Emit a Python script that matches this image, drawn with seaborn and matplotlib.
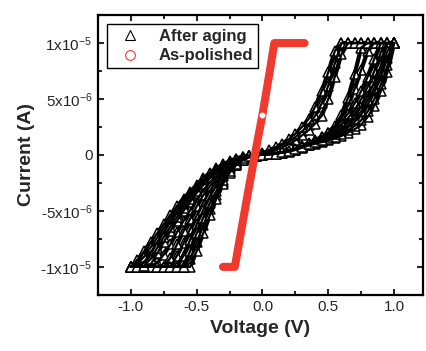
import matplotlib
matplotlib.use("Agg")
import matplotlib.pyplot as plt
from matplotlib.lines import Line2D
from matplotlib.ticker import MultipleLocator
import seaborn as sns
import pandas as pd

# ============================== Data (current in uA) ==============================
voltage = [-1.00, -0.95, -0.90, -0.85, -0.80, -0.75, -0.70, -0.65, -0.60, -0.55,
           -0.50, -0.45, -0.40, -0.35, -0.30, -0.25, -0.20, -0.15, -0.10, -0.05,
           0.00,
           0.05, 0.10, 0.15, 0.20, 0.25, 0.30, 0.35, 0.40, 0.45, 0.50,
           0.55, 0.60, 0.65, 0.70, 0.75, 0.80, 0.85, 0.90, 0.95, 1.00]

# "After aging" sweeps
aged_1 = [-10.0, -9.4, -8.6, -7.8, -7.0, -6.2, -5.4, -4.6, -3.9, -3.3,
          -2.7, -2.1, -1.6, -1.2, -0.85, -0.55, -0.32, -0.15, -0.05, 0.0,
          0.0,
          0.05, 0.1, 0.2, 0.3, 0.45, 0.65, 0.85, 1.0, 1.15, 1.3,
          1.5, 1.7, 2.0, 2.3, 2.7, 3.4, 4.4, 5.7, 7.4, 10.0]
aged_2 = [-10.0, -10.0, -9.6, -8.7, -7.8, -6.9, -6.0, -5.2, -4.4, -3.7,
          -3.0, -2.4, -1.85, -1.4, -1.0, -0.7, -0.42, -0.22, -0.08, -0.02,
          0.02,
          0.06, 0.12, 0.22, 0.35, 0.5, 0.7, 0.9, 1.1, 1.3, 1.5,
          1.75, 2.05, 2.45, 2.95, 3.6, 4.5, 5.6, 7.0, 8.7, 10.0]
aged_3 = [-10.0, -10.0, -10.0, -9.8, -8.8, -7.8, -6.8, -5.9, -5.0, -4.2,
          -3.4, -2.7, -2.1, -1.6, -1.15, -0.8, -0.5, -0.27, -0.1, -0.03,
          0.03,
          0.07, 0.14, 0.24, 0.38, 0.55, 0.75, 0.98, 1.2, 1.45, 1.7,
          2.0, 2.4, 2.9, 3.5, 4.3, 5.3, 6.5, 8.0, 10.0, 10.0]
aged_4 = [-10.0, -10.0, -10.0, -10.0, -10.0, -10.0, -9.2, -8.0, -6.8, -5.7,
          -4.6, -3.6, -2.8, -2.1, -1.5, -1.0, -0.62, -0.33, -0.13, -0.04,
          0.05,
          0.08, 0.16, 0.27, 0.4, 0.58, 0.8, 1.05, 1.3, 1.6, 1.95,
          2.4, 3.0, 3.7, 4.6, 5.7, 7.0, 8.6, 10.0, 10.0, 10.0]
aged_5 = [-10.0, -10.0, -10.0, -10.0, -10.0, -10.0, -10.0, -10.0, -9.0, -7.6,
          -6.2, -4.9, -3.7, -2.7, -1.9, -1.25, -0.75, -0.4, -0.16, -0.05,
          0.06,
          0.1, 0.15, 0.25, 0.35, 0.5, 0.7, 0.95, 1.25, 1.6, 2.0,
          2.6, 3.6, 5.1, 7.2, 9.6, 10.0, 10.0, 10.0, 10.0, 10.0]
aged_6 = [-10.0, -10.0, -10.0, -10.0, -10.0, -10.0, -10.0, -10.0, -10.0, -10.0,
          -8.6, -7.0, -5.4, -3.9, -2.6, -1.6, -0.9, -0.45, -0.2, -0.05,
          0.1,
          0.25, 0.45, 0.68, 0.95, 1.3, 1.75, 2.2, 2.8, 3.5, 5.0,
          7.0, 9.0, 10.0, 10.0, 10.0, 10.0, 10.0, 10.0, 10.0, 10.0]
aged_7 = [-10.0, -10.0, -10.0, -10.0, -10.0, -10.0, -10.0, -10.0, -10.0, -8.6,
          -7.0, -5.6, -4.3, -3.2, -2.2, -1.4, -0.85, -0.45, -0.2, -0.07,
          0.15,
          0.4, 0.7, 1.0, 1.4, 1.9, 2.5, 3.2, 4.3, 5.7, 7.4,
          9.3, 10.0, 10.0, 10.0, 10.0, 10.0, 10.0, 10.0, 10.0, 10.0]
aged_8 = [-10.0, -9.7, -9.1, -8.25, -7.4, -6.55, -5.7, -4.9, -4.15, -3.5,
          -2.85, -2.25, -1.7, -1.3, -0.92, -0.62, -0.37, -0.18, -0.06, -0.01,
          0.01,
          0.05, 0.11, 0.21, 0.32, 0.47, 0.67, 0.87, 1.05, 1.22, 1.4,
          1.62, 1.87, 2.2, 2.6, 3.1, 3.9, 5.0, 6.3, 8.0, 10.0]
aged_9 = [-10.0, -10.0, -9.9, -9.3, -8.3, -7.35, -6.4, -5.55, -4.7, -3.95,
          -3.2, -2.55, -1.97, -1.5, -1.07, -0.75, -0.46, -0.25, -0.09, -0.03,
          0.03,
          0.07, 0.13, 0.23, 0.36, 0.52, 0.72, 0.94, 1.15, 1.38, 1.6,
          1.88, 2.2, 2.65, 3.2, 3.9, 4.9, 6.0, 7.5, 9.3, 10.0]
aged_10 = [-10.0, -10.0, -10.0, -10.0, -9.6, -8.9, -8.0, -6.9, -5.9, -4.95,
           -4.0, -3.15, -2.45, -1.85, -1.3, -0.9, -0.56, -0.3, -0.12, -0.04,
           0.04,
           0.08, 0.15, 0.25, 0.39, 0.56, 0.78, 1.0, 1.25, 1.52, 1.82,
           2.2, 2.7, 3.3, 4.0, 5.0, 6.1, 7.5, 9.2, 10.0, 10.0]
aged_11 = [-10.0, -10.0, -10.0, -10.0, -10.0, -10.0, -10.0, -9.0, -7.9, -6.6,
           -5.4, -4.2, -3.2, -2.4, -1.7, -1.12, -0.68, -0.36, -0.14, -0.05,
           0.05,
           0.09, 0.16, 0.26, 0.38, 0.54, 0.75, 1.0, 1.28, 1.6, 1.98,
           2.5, 3.3, 4.4, 5.9, 7.6, 9.3, 10.0, 10.0, 10.0, 10.0]
aged_12 = [-10.0, -10.0, -10.0, -10.0, -10.0, -10.0, -10.0, -10.0, -10.0, -9.3,
           -7.8, -6.3, -4.85, -3.55, -2.4, -1.5, -0.88, -0.45, -0.2, -0.06,
           0.12,
           0.32, 0.57, 0.84, 1.17, 1.6, 2.1, 2.7, 3.5, 4.6, 6.2,
           8.2, 10.0, 10.0, 10.0, 10.0, 10.0, 10.0, 10.0, 10.0, 10.0]

# "As-polished" sweep
polished_v = [-0.30, -0.25, -0.21, -0.15, -0.10, -0.05, 0.00, 0.05, 0.09, 0.15, 0.20, 0.25, 0.32]
polished_i = [-10.0, -10.0, -10.0, -6.0, -2.7, 0.5, 3.6, 7.1, 10.0, 10.0, 10.0, 10.0, 10.0]

# ============================== Style ==============================
sns.set_style("ticks")
plt.rcParams['font.family'] = ['Liberation Sans', 'DejaVu Sans']
plt.rcParams['mathtext.fontset'] = 'custom'
plt.rcParams['mathtext.rm'] = 'Liberation Sans'
plt.rcParams['mathtext.default'] = 'regular'

sweeps = [aged_1, aged_2, aged_3, aged_4, aged_5, aged_6,
          aged_7, aged_8, aged_9, aged_10, aged_11, aged_12]
aged = pd.DataFrame({'voltage': voltage})
for n, sweep in enumerate(sweeps):
    aged[f'sweep_{n + 1}'] = sweep
aged = aged.melt(id_vars='voltage', var_name='sweep', value_name='current')
aged['current'] = aged['current'] * 1e-6

polished = pd.DataFrame({'voltage': polished_v, 'current': polished_i})
polished['current'] = polished['current'] * 1e-6

# ============================== Plot ==============================
fig = plt.figure(figsize=(4.26, 3.51), dpi=100)
ax = fig.add_axes([0.230, 0.160, 0.763, 0.797])

# triangles first, then the sweep traces over them so the band reads dark
sns.lineplot(data=aged, x='voltage', y='current', units='sweep', estimator=None,
             sort=False, color='black', lw=3.0, marker='^', markersize=6.5,
             markerfacecolor='white', markeredgecolor='black', markeredgewidth=1.1,
             ax=ax, legend=False, zorder=2)
sns.lineplot(data=aged, x='voltage', y='current', units='sweep', estimator=None,
             sort=False, color='black', lw=1.6, ax=ax, legend=False, zorder=2.5)

sns.lineplot(data=polished, x='voltage', y='current', sort=False, color='#f03a2e',
             lw=5.8, solid_capstyle='round', solid_joinstyle='round',
             ax=ax, legend=False, zorder=3)
# the one circle whose hollow shows through
ax.plot(polished['voltage'][6], polished['current'][6], 'o', ms=3.2,
        mfc='white', mec='white', zorder=4)

ax.set_xlim(-1.25, 1.22)
ax.set_ylim(-1.25e-5, 1.25e-5)
ax.set_xticks([-1.0, -0.5, 0.0, 0.5, 1.0])
ax.set_xticklabels(['-1.0', '-0.5', '0.0', '0.5', '1.0'])
ax.set_yticks([-1e-5, -5e-6, 0, 5e-6, 1e-5])
ax.set_yticklabels(['-1x10$^{-5}$', '-5x10$^{-6}$', '0', '5x10$^{-6}$', '1x10$^{-5}$'])
ax.xaxis.set_minor_locator(MultipleLocator(0.25))
ax.yaxis.set_minor_locator(MultipleLocator(2.5e-6))
ax.tick_params(which='both', direction='in', top=True, right=True, width=1.5,
               labelsize=11, pad=4)
ax.tick_params(which='major', length=4.5)
ax.tick_params(which='minor', length=3)
for side in ax.spines.values():
    side.set_linewidth(1.6)
    side.set_color('black')

ax.set_xlabel('Voltage (V)', fontsize=14, fontweight='bold', labelpad=4)
ax.set_ylabel('Current (A)', fontsize=14, fontweight='bold', labelpad=4)

handles = [Line2D([], [], ls='none', marker='^', ms=7, mfc='white', mec='black', mew=0.8),
           Line2D([], [], ls='none', marker='o', ms=7, mfc='white', mec='#f03a2e', mew=0.8)]
leg = ax.legend(handles, ['After aging', 'As-polished'], loc='upper left',
                bbox_to_anchor=(0.028, 0.967), frameon=True, fancybox=False,
                framealpha=1, edgecolor='black', borderpad=0.3, labelspacing=0.25,
                handlelength=2.2, handletextpad=0.6, borderaxespad=0,
                prop={'weight': 'bold', 'size': 12})
leg.get_frame().set_linewidth(1.0)

fig.savefig('out.png', dpi=100)
